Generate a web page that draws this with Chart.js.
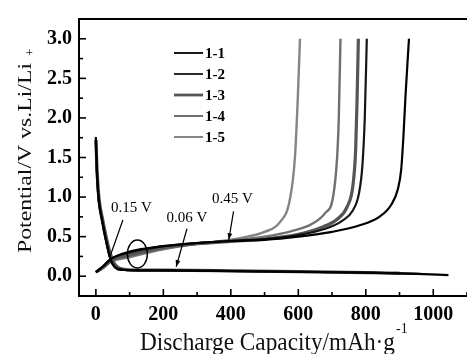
<!DOCTYPE html>
<html>
<head>
<meta charset="utf-8">
<script src="https://cdn.jsdelivr.net/npm/chart.js@4.4.1/dist/chart.umd.min.js"></script>
<style>
  html, body { margin: 0; padding: 0; background: #fff; }
  #wrap { width: 467px; height: 354px; }
</style>
</head>
<body>
<div id="wrap"><canvas id="cv" width="467" height="354"></canvas></div>
<script>
// series names
var names = ['1-1', '1-2', '1-3', '1-4', '1-5'];

// discharge curves (capacity mAh/g, potential V)
var dis11x = [0, 3, 8, 18, 30, 40, 50, 65, 90, 200, 400, 600, 800, 950, 1045];
var dis11y = [1.76, 1.35, 1.0, 0.72, 0.45, 0.26, 0.15, 0.09, 0.078, 0.074, 0.066, 0.056, 0.045, 0.03, 0.015];
var dis12x = [0, 3, 8, 18, 30, 40, 50, 65, 90, 200, 400, 600, 800, 960];
var dis12y = [1.74, 1.33, 0.98, 0.72, 0.46, 0.27, 0.15, 0.09, 0.078, 0.074, 0.066, 0.056, 0.045, 0.03];
var dis13x = [0, 4, 10, 20, 32, 44, 55, 70, 95, 200, 400, 600, 800, 900];
var dis13y = [1.72, 1.3, 0.96, 0.72, 0.47, 0.27, 0.16, 0.1, 0.082, 0.076, 0.068, 0.058, 0.046, 0.038];
var dis14x = [0, 3, 8, 18, 30, 42, 52, 68, 95, 200, 400, 600, 830];
var dis14y = [1.72, 1.32, 0.98, 0.72, 0.46, 0.26, 0.15, 0.095, 0.08, 0.075, 0.066, 0.056, 0.044];
var dis15x = [0, 3, 8, 18, 30, 42, 52, 68, 95, 200, 400, 600, 700];
var dis15y = [1.7, 1.3, 0.96, 0.7, 0.45, 0.26, 0.15, 0.095, 0.08, 0.075, 0.066, 0.056, 0.05];

// charge curves
var chg11x = [0, 20, 45, 100, 200, 300, 400, 500, 600, 700, 780, 840, 875, 895, 905, 912, 918, 928];
var chg11y = [0.05, 0.12, 0.22, 0.31, 0.38, 0.42, 0.445, 0.46, 0.5, 0.56, 0.64, 0.75, 0.9, 1.1, 1.35, 1.8, 2.3, 3.0];
var chg12x = [0, 20, 45, 100, 200, 300, 400, 500, 600, 680, 730, 760, 780, 790, 797, 803];
var chg12y = [0.05, 0.12, 0.22, 0.3, 0.38, 0.42, 0.445, 0.47, 0.52, 0.6, 0.7, 0.82, 1.05, 1.4, 2.0, 3.0];
var chg13x = [0, 20, 45, 100, 200, 300, 400, 500, 600, 670, 715, 745, 762, 770, 774, 778];
var chg13y = [0.05, 0.11, 0.2, 0.27, 0.36, 0.41, 0.44, 0.47, 0.53, 0.62, 0.72, 0.88, 1.15, 1.6, 2.2, 3.0];
var chg14x = [0, 20, 45, 100, 200, 300, 400, 500, 580, 640, 680, 703, 715, 720, 725];
var chg14y = [0.05, 0.1, 0.19, 0.25, 0.35, 0.41, 0.45, 0.5, 0.57, 0.66, 0.8, 1.0, 1.5, 2.0, 3.0];
var chg15x = [0, 20, 45, 100, 200, 300, 380, 450, 500, 545, 575, 590, 598, 605];
var chg15y = [0.05, 0.1, 0.18, 0.24, 0.34, 0.41, 0.45, 0.5, 0.56, 0.68, 0.97, 1.5, 2.2, 3.0];

// tick labels
var xTicks = [0, 200, 400, 600, 800, 1000];
var yTicks = [0.0, 0.5, 1.0, 1.5, 2.0, 2.5, 3.0];

var colors = ['#000000', '#151515', '#555555', '#707070', '#858585'];
var widths = [2.2, 2.2, 3.2, 2.4, 2.4];

function pts(xs, ys) {
  return xs.map(function (x, i) { return { x: x, y: ys[i] }; });
}
// discharge, a gap, then charge in one dataset
function curve(dx, dy, cx, cy) {
  return pts(dx, dy).concat([{ x: null, y: null }], pts(cx, cy));
}

var curves = [
  curve(dis11x, dis11y, chg11x, chg11y),
  curve(dis12x, dis12y, chg12x, chg12y),
  curve(dis13x, dis13y, chg13x, chg13y),
  curve(dis14x, dis14y, chg14x, chg14y),
  curve(dis15x, dis15y, chg15x, chg15y)
];

var datasets = names.map(function (n, i) {
  return {
    label: n,
    data: curves[i],
    borderColor: colors[i],
    backgroundColor: colors[i],
    borderWidth: widths[i],
    pointRadius: 0,
    showLine: true,
    spanGaps: false,
    cubicInterpolationMode: 'monotone'
  };
});

var serif = '"Liberation Serif", "Times New Roman", serif';

function arrow(ctx, x1, y1, x2, y2) {
  ctx.beginPath();
  ctx.moveTo(x1, y1);
  ctx.lineTo(x2, y2);
  ctx.stroke();
  var a = Math.atan2(y2 - y1, x2 - x1);
  var L = 7, w = 0.35;
  ctx.beginPath();
  ctx.moveTo(x2, y2);
  ctx.lineTo(x2 - L * Math.cos(a - w), y2 - L * Math.sin(a - w));
  ctx.lineTo(x2 - L * Math.cos(a + w), y2 - L * Math.sin(a + w));
  ctx.closePath();
  ctx.fill();
}

// draw text stretched to a given length
function fitText(ctx, txt, x, y, len) {
  var w = ctx.measureText(txt).width;
  ctx.save();
  ctx.translate(x, y);
  ctx.scale(len / w, 1);
  ctx.fillText(txt, 0, 0);
  ctx.restore();
}

var decor = {
  id: 'decor',
  afterDraw: function (chart) {
    var ctx = chart.ctx;
    var a = chart.chartArea;
    var xs = chart.scales.x, ys = chart.scales.y;
    ctx.save();
    ctx.strokeStyle = '#000';
    ctx.fillStyle = '#000';

    // frame (top, left, bottom)
    ctx.lineWidth = 2;
    ctx.beginPath();
    ctx.moveTo(a.right + 2, a.top);
    ctx.lineTo(a.left, a.top);
    ctx.lineTo(a.left, a.bottom);
    ctx.lineTo(a.right + 2, a.bottom);
    ctx.stroke();

    // inward ticks
    ctx.lineWidth = 1.6;
    for (var v = 0; v <= 1100; v += 100) {
      var px = xs.getPixelForValue(v);
      var len = v % 200 === 0 ? 7 : 4;
      ctx.beginPath();
      ctx.moveTo(px, a.bottom);
      ctx.lineTo(px, a.bottom - len);
      ctx.stroke();
    }
    for (var k = 0; k <= 13; k++) {
      var yv = k * 0.25;
      var py = ys.getPixelForValue(yv);
      var l2 = k % 2 === 0 ? 7 : 4;
      ctx.beginPath();
      ctx.moveTo(a.left, py);
      ctx.lineTo(a.left + l2, py);
      ctx.stroke();
    }

    // axis titles
    ctx.fillStyle = '#111';
    ctx.textBaseline = 'alphabetic';
    ctx.textAlign = 'left';
    ctx.font = '26px ' + serif;
    fitText(ctx, 'Discharge Capacity/mAh\u00b7g', 140, 350, 255);
    ctx.font = '14px ' + serif;
    ctx.fillText('-1', 396, 333);

    ctx.save();
    ctx.translate(31, 253);
    ctx.rotate(-Math.PI / 2);
    ctx.font = '18px ' + serif;
    fitText(ctx, 'Potential/V vs.Li/Li', 0, 0, 190);
    ctx.font = '13px ' + serif;
    ctx.fillText('+', 197, 3);
    ctx.restore();

    // legend
    ctx.font = 'bold 15px ' + serif;
    ctx.textBaseline = 'middle';
    names.forEach(function (n, i) {
      var y = 53 + i * 21;
      ctx.strokeStyle = colors[i];
      ctx.lineWidth = widths[i] - 0.4;
      ctx.beginPath();
      ctx.moveTo(174, y);
      ctx.lineTo(203, y);
      ctx.stroke();
      ctx.fillStyle = '#000';
      ctx.fillText(n, 205, y + 1);
    });

    // annotations
    ctx.strokeStyle = '#000';
    ctx.fillStyle = '#000';
    ctx.lineWidth = 1.4;
    ctx.beginPath();
    ctx.ellipse(xs.getPixelForValue(123), ys.getPixelForValue(0.28), 10, 14, 0, 0, Math.PI * 2);
    ctx.stroke();

    ctx.font = '15px ' + serif;
    ctx.textAlign = 'center';
    ctx.textBaseline = 'middle';
    ctx.fillText('0.15 V', xs.getPixelForValue(105), ys.getPixelForValue(0.86));
    ctx.fillText('0.06 V', xs.getPixelForValue(270), ys.getPixelForValue(0.73));
    ctx.fillText('0.45 V', xs.getPixelForValue(405), ys.getPixelForValue(0.98));

    ctx.lineWidth = 1.2;
    ctx.beginPath();
    ctx.moveTo(xs.getPixelForValue(80), ys.getPixelForValue(0.71));
    ctx.lineTo(xs.getPixelForValue(42), ys.getPixelForValue(0.25));
    ctx.stroke();
    arrow(ctx, xs.getPixelForValue(270), ys.getPixelForValue(0.6),
      xs.getPixelForValue(238), ys.getPixelForValue(0.12));
    arrow(ctx, xs.getPixelForValue(408), ys.getPixelForValue(0.82),
      xs.getPixelForValue(394), ys.getPixelForValue(0.46));
    ctx.restore();
  }
};

var ctx = document.getElementById('cv').getContext('2d');
var myChart = new Chart(ctx, {
  type: 'scatter',
  data: { datasets: datasets },
  options: {
    responsive: false,
    animation: false,
    layout: { padding: { top: 10, left: 0, right: 0, bottom: 0 } },
    scales: {
      x: {
        type: 'linear',
        min: -50,
        max: 1100,
        border: { display: false },
        grid: { display: false, drawTicks: false },
        afterFit: function (s) { s.height = 58; },
        afterBuildTicks: function (s) {
          s.ticks = xTicks.map(function (v) { return { value: v }; });
        },
        ticks: {
          color: '#000',
          padding: 7,
          maxRotation: 0,
          font: { family: serif, size: 20, weight: 'bold' },
          callback: function (v) { return String(v); }
        }
      },
      y: {
        type: 'linear',
        min: -0.25,
        max: 3.25,
        border: { display: false },
        grid: { display: false, drawTicks: false },
        afterFit: function (s) { s.width = 79; },
        afterBuildTicks: function (s) {
          s.ticks = yTicks.map(function (v) { return { value: v }; });
        },
        ticks: {
          color: '#000',
          padding: 7,
          font: { family: serif, size: 20, weight: 'bold' },
          callback: function (v) { return Number(v).toFixed(1); }
        }
      }
    },
    plugins: {
      legend: { display: false },
      tooltip: { enabled: false }
    }
  },
  plugins: [decor]
});
</script>
</body>
</html>
